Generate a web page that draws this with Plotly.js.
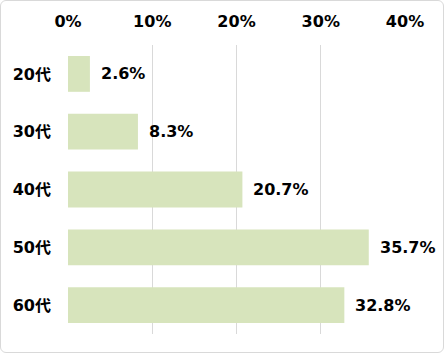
<!DOCTYPE html>
<html>
<head>
<meta charset="utf-8">
<script src="https://cdn.plot.ly/plotly-3.0.1.min.js"></script>
<style>
html,body{margin:0;padding:0;background:#fff;}
#chart{position:absolute;left:0;top:0;width:444px;height:353px;}
#frame{position:absolute;left:0;top:0;width:444px;height:353px;box-sizing:border-box;border:1px solid #d9d9d9;border-radius:6px;pointer-events:none;}
</style>
</head>
<body>
<div id="chart"></div>
<div id="frame"></div>
<script>
const categories = ["20代", "30代", "40代", "50代", "60代"];
const values = [2.6, 8.3, 20.7, 35.7, 32.8];
const tickValues = [0, 10, 20, 30, 40];
const tickLabels = ["0%", "10%", "20%", "30%", "40%"];

const FONT = "DejaVu Sans, Verdana, 'Noto Sans CJK JP', sans-serif";

const trace = {
  type: "bar",
  orientation: "h",
  x: values,
  y: categories,
  marker: {color: "#d7e4bc"},
  hoverinfo: "none"
};

const annotations = values.map((v, i) => ({
  x: v, y: categories[i], xref: "x", yref: "y",
  text: v.toFixed(1) + "%",
  showarrow: false, xanchor: "left", yanchor: "middle", xshift: 9,
  font: {family: FONT, size: 16, color: "#000", weight: "bold"}
}));

const layout = {
  width: 444, height: 353,
  margin: {l: 68, r: 39, t: 45, b: 19, pad: 0},
  paper_bgcolor: "rgba(0,0,0,0)",
  plot_bgcolor: "rgba(0,0,0,0)",
  bargap: 0.38,
  showlegend: false,
  font: {family: FONT, size: 16, color: "#000", weight: "bold"},
  xaxis: {
    side: "top", range: [0, 40], tickvals: tickValues, ticktext: tickLabels,
    showgrid: true, gridcolor: "#d9d9d9", gridwidth: 1, zeroline: false,
    showline: false, ticks: "", ticklabelstandoff: 14,
    tickfont: {family: FONT, size: 16, color: "#000", weight: "bold"},
    fixedrange: true
  },
  yaxis: {
    type: "category", autorange: "reversed",
    showgrid: false, zeroline: false, showline: false, ticks: "",
    ticklabelstandoff: 16,
    tickfont: {family: FONT, size: 16, color: "#000", weight: "bold"},
    fixedrange: true
  },
  annotations: annotations
};

Plotly.newPlot("chart", [trace], layout, {displayModeBar: false, staticPlot: true});
</script>
</body>
</html>
